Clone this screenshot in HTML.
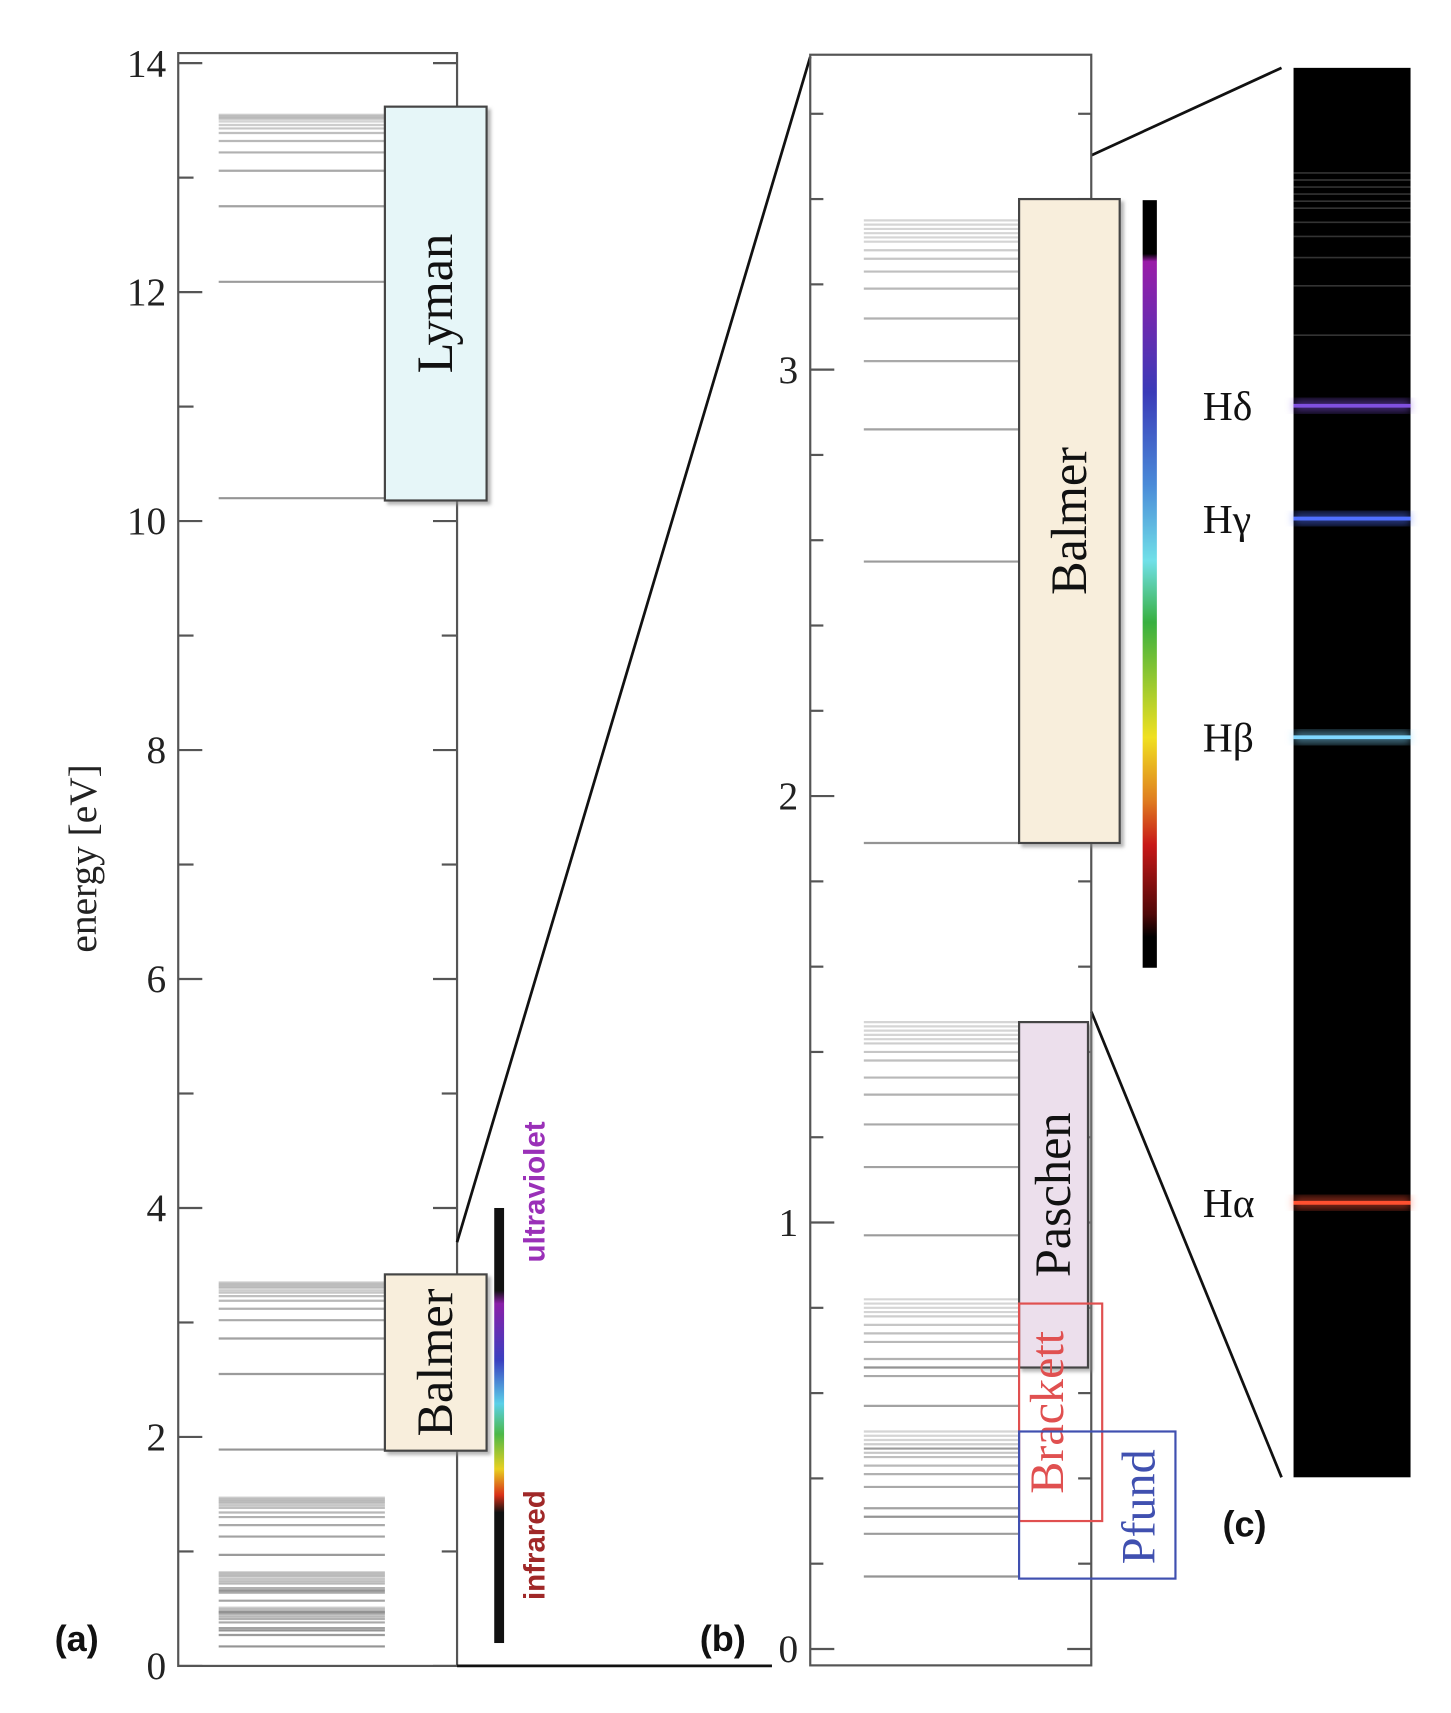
<!DOCTYPE html>
<html><head><meta charset="utf-8"><style>
html,body{margin:0;padding:0;background:#fff;}
svg{display:block;}
.serif{font-family:"Liberation Serif",serif;}
.sans{font-family:"Liberation Sans",sans-serif;font-weight:bold;}
</style></head><body>
<svg id="chart" width="1451" height="1713" viewBox="0 0 1327 1566.5" xmlns="http://www.w3.org/2000/svg">
<defs>
<linearGradient id="visA" x1="0" y1="0" x2="0" y2="1">
<stop offset="0" stop-color="#111"/><stop offset="0.19" stop-color="#111"/><stop offset="0.22" stop-color="#8a1fa8"/><stop offset="0.35" stop-color="#3a3fc0"/><stop offset="0.45" stop-color="#5ad0e8"/><stop offset="0.52" stop-color="#4cb848"/><stop offset="0.6" stop-color="#e8d020"/><stop offset="0.66" stop-color="#d83018"/><stop offset="0.7" stop-color="#111"/><stop offset="1" stop-color="#111"/>
</linearGradient>
<linearGradient id="visB" x1="0" y1="0" x2="0" y2="1">
<stop offset="0" stop-color="#000"/><stop offset="0.07" stop-color="#000"/><stop offset="0.08" stop-color="#9a1ca8"/><stop offset="0.25" stop-color="#3a3ab8"/><stop offset="0.37" stop-color="#4a8ad8"/><stop offset="0.47" stop-color="#70e0e8"/><stop offset="0.55" stop-color="#38b040"/><stop offset="0.7" stop-color="#f0e020"/><stop offset="0.78" stop-color="#e08020"/><stop offset="0.84" stop-color="#c81818"/><stop offset="0.93" stop-color="#500808"/><stop offset="0.96" stop-color="#000"/><stop offset="1" stop-color="#000"/>
</linearGradient>
<filter id="sh"><feDropShadow dx="3" dy="3" stdDeviation="1.5" flood-color="#888" flood-opacity="0.6"/></filter>
<filter id="glow"><feGaussianBlur stdDeviation="4"/></filter>
</defs>
<g id="root"></g>
</svg>
<script>
const lyman = [10.20,12.09,12.75,13.06,13.22,13.32,13.39,13.43,13.46,13.49,13.51,13.52,13.53,13.54,13.55];
const balmer = [1.89,2.55,2.86,3.02,3.12,3.19,3.23,3.26,3.28,3.30,3.31,3.32,3.33,3.34,3.35];
const paschen = [0.66,0.97,1.13,1.23,1.30,1.34,1.38,1.40,1.42,1.43,1.44,1.45,1.46,1.47];
const brackett = [0.31,0.47,0.57,0.64,0.68,0.72,0.74,0.76,0.78,0.79,0.80,0.81,0.82];
const pfund = [0.17,0.27,0.33,0.38,0.41,0.43,0.45,0.46,0.48,0.49,0.50,0.51];
const ticksA = [0,2,4,6,8,10,12,14];
const ticksB = [0,1,2,3];
const hLabels = ["Hα","Hβ","Hγ","Hδ"];
const hEnergies = [1.89,2.55,2.86,3.02];
const hColors = ["#ff5030","#80d8ff","#5070ff","#8050e0"];

const NS="http://www.w3.org/2000/svg";
const root=document.getElementById('root');
function el(tag,attrs,parent,text){const e=document.createElementNS(NS,tag);for(const k in attrs)e.setAttribute(k,attrs[k]);if(text!==undefined)e.textContent=text;(parent||root).appendChild(e);return e;}
const yA=E=>1523.5-E*104.7;
const yB=E=>1508-E*390;
const yC=E=>1100-(E-1.89)*(1100-371)/(3.02-1.89);

// ---------- Panel A ----------
const gA=el('g',{});


function levels(arr,y,x1,x2,g,name){
  arr.forEach((E,i)=>{const l=el('line',{x1:x1,x2:x2,y1:y(E),y2:y(E),stroke:'#888','stroke-width':2,'stroke-opacity':Math.max(0.35,0.9-i*0.06)},g);
  
  });
}
[lyman,balmer,paschen,brackett,pfund].forEach((a,k)=>levels(a,yA,200,352,gA,['lyman','balmer','paschen','brackett','pfund'][k]));
const fA=el('rect',{x:163,y:48.5,width:255,height:1475,fill:'none',stroke:'#555','stroke-width':2},gA);


for(let E=0;E<=14;E++){const maj=E%2===0;const L=maj?22:14;
 el('line',{x1:163,x2:163+L,y1:yA(E),y2:yA(E),stroke:'#555','stroke-width':2},gA);
 el('line',{x1:418,x2:418-L,y1:yA(E),y2:yA(E),stroke:'#555','stroke-width':2},gA);}
ticksA.forEach(t=>{const tx=el('text',{x:152,y:yA(t)+12,'text-anchor':'end','font-size':36,class:'serif',fill:'#222'},gA,String(t));
 
 });
const yt=el('text',{x:0,y:0,'font-size':36,class:'serif',fill:'#222','text-anchor':'middle',transform:'translate(88,785) rotate(-90)'},gA,'energy [eV]');


function box(x,E1,E2,w,y,fill,label,name,g,color,fs,dx){
 const r=el('rect',{x:x,y:y(E1),width:w,height:y(E2)-y(E1),fill:fill,stroke:color||'#444','stroke-width':2,filter:color?'':'url(#sh)'},g);
 
 
 const cy=(y(E1)+y(E2))/2;
 const t=el('text',{x:0,y:0,'font-size':fs||46,class:'serif',fill:color||'#111','text-anchor':'middle',transform:`translate(${x+w/2+(dx===undefined?15:dx)},${cy}) rotate(-90)`},g,label);
 
 
}
box(352,13.62,10.18,93,yA,'#e6f6f8','Lyman','lyman-a',gA);
box(352,3.42,1.88,93,yA,'#f8eedc','Balmer','balmer-a',gA);
const sa=el('rect',{x:452,y:yA(4.0),width:9,height:yA(0.2)-yA(4.0),fill:'url(#visA)'},gA);


const uv=el('text',{x:0,y:0,'font-size':27,class:'sans',fill:'#9a30b8','text-anchor':'middle',transform:'translate(498,1090) rotate(-90)'},gA,'ultraviolet');


const ir=el('text',{x:0,y:0,'font-size':27,class:'sans',fill:'#a02828','text-anchor':'middle',transform:'translate(498,1413) rotate(-90)'},gA,'infrared');



// connectors
el('line',{x1:418,y1:1136,x2:741,y2:52,stroke:'#111','stroke-width':2.5});
el('line',{x1:418,y1:1523.5,x2:706,y2:1523.5,stroke:'#111','stroke-width':2.5});
el('line',{x1:998,y1:142,x2:1172,y2:62,stroke:'#111','stroke-width':2.5});
el('line',{x1:998,y1:925,x2:1172,y2:1351,stroke:'#111','stroke-width':2.5});

// ---------- Panel B ----------
const gB=el('g',{});


[balmer,paschen,brackett,pfund].forEach((a,k)=>levels(a,yB,790,932,gB,['balmer','paschen','brackett','pfund'][k]));
const fB=el('rect',{x:741,y:50,width:257,height:1473,fill:'none',stroke:'#555','stroke-width':2},gB);


for(let i=0;i<=18;i++){const E=i*0.2;const maj=i%5===0;const L=maj?22:12;
 el('line',{x1:741,x2:741+L,y1:yB(E),y2:yB(E),stroke:'#555','stroke-width':2},gB);
 el('line',{x1:998,x2:998-L,y1:yB(E),y2:yB(E),stroke:'#555','stroke-width':2},gB);}
ticksB.forEach(t=>{const tx=el('text',{x:730,y:yB(t)+12,'text-anchor':'end','font-size':36,class:'serif',fill:'#222'},gB,String(t));
 
 });
box(932,3.40,1.89,92,yB,'#f8eedc','Balmer','balmer-b',gB);
box(932,1.47,0.66,63,yB,'#ecdfec','Paschen','paschen-b',gB);
box(932,0.81,0.30,76,yB,'none','Brackett','brackett-b',gB,'#e05050',44,2);
box(932,0.51,0.165,143,yB,'none','','pfund-b',gB,'#4050b0');
const pf=el('text',{x:0,y:0,'font-size':44,class:'serif',fill:'#4050b0','text-anchor':'middle',transform:'translate(1056,1378) rotate(-90)'},gB,'Pfund');


const sb=el('rect',{x:1045,y:183,width:13,height:702,fill:'url(#visB)'},gB);



// ---------- Panel C ----------
const gC=el('g',{});


const strip=el('rect',{x:1183,y:62,width:107,height:1289,fill:'#000'},gC);


balmer.slice(4).forEach(E=>{el('line',{x1:1183,x2:1290,y1:yC(E),y2:yC(E),stroke:'#555','stroke-width':1.5,'stroke-opacity':0.6},gC);});
hEnergies.forEach((E,i)=>{
 el('rect',{x:1183,y:yC(E)-6,width:107,height:12,fill:hColors[i],opacity:0.5,filter:'url(#glow)'},gC);
 const l=el('line',{x1:1183,x2:1290,y1:yC(E),y2:yC(E),stroke:hColors[i],'stroke-width':3.5},gC);
 
 
 const t=el('text',{x:1100,y:yC(E)+13,'font-size':38,class:'serif',fill:'#111'},gC,hLabels[i]);
 
 
});

[['(a)',50,1510],['(b)',640,1510],['(c)',1118,1405]].forEach(p=>{const t=el('text',{x:p[1],y:p[2],'font-size':33,class:'sans',fill:'#111'},root,p[0]);
 
 });
</script>
</body></html>
